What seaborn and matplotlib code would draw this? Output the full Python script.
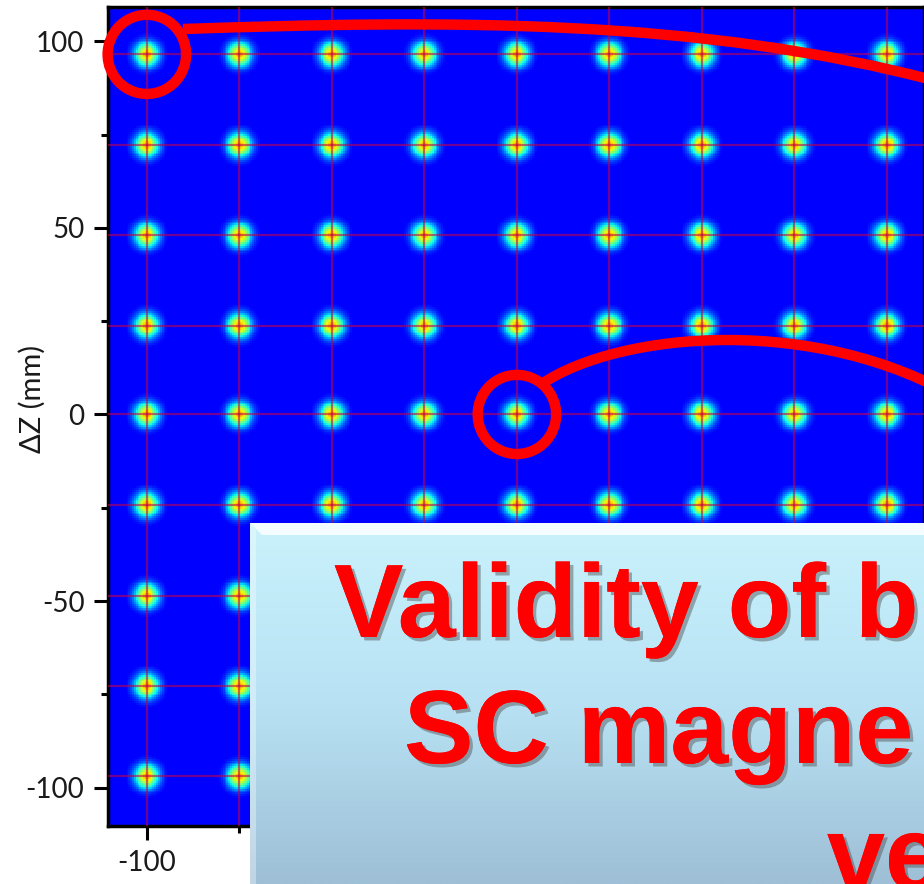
"""
Beam spot grid on the detector plane (jet heatmap) with call-out overlay.
"""

import numpy as np

import matplotlib
matplotlib.use("Agg")
import matplotlib.pyplot as plt
import matplotlib.patheffects as pe
from matplotlib.colors import ListedColormap
from matplotlib.patches import Circle, PathPatch, Polygon
from matplotlib.path import Path
import seaborn as sns

# ---------------------------------------------------------------------------
# Data
# ---------------------------------------------------------------------------

spot_x_mm = [-100, -75, -50, -25, 0, 25, 50, 75, 100]
spot_z_mm = [96.5, 72.2, 48.0, 23.8, 0.0, -24.2, -48.6, -72.8, -97.0]
spot_sigma_mm = 2.2

x_major = [-100, -50, 0, 50, 100]
x_minor = [-75, -25, 25, 75]
z_major = [-100, -50, 0, 50, 100]
z_minor = [-75, -25, 25, 75]
x_major_labels = ["-100", "-50", "0", "50", "100"]
z_major_labels = ["-100", "-50", "0", "50", "100"]

# spots circled in the call-out: (column index, row index)
highlighted = [(0, 0), (4, 4)]

title_lines = ["Validity of b", "SC magne", "ve"]

# ---------------------------------------------------------------------------
# Layout
# ---------------------------------------------------------------------------

W, H = 924, 884
X_LIM = (-110.5, 110.0)
Z_LIM = (-110.3, 109.2)
RES = 0.5
BOX_LEFT, BOX_TOP = 250, 523   # text box corner, figure pixels

sns.set_theme(style="ticks")
plt.rcParams["font.family"] = ["Lato", "DejaVu Sans"]

fig = plt.figure(figsize=(W / 100, H / 100), dpi=100)
fig.patch.set_facecolor("white")
ax = fig.add_axes([108 / W, 58 / H, 816 / W, 819 / H], zorder=1)


def to_col(x):
    return (np.asarray(x, dtype=float) - X_LIM[0]) / RES


def to_row(z):
    return (Z_LIM[1] - np.asarray(z, dtype=float)) / RES


# intensity image: a gaussian spot at every grid position
nx = int(round((X_LIM[1] - X_LIM[0]) / RES))
ny = int(round((Z_LIM[1] - Z_LIM[0]) / RES))
xc = X_LIM[0] + RES * (np.arange(nx) + 0.5)
zc = Z_LIM[1] - RES * (np.arange(ny) + 0.5)
XX, ZZ = np.meshgrid(xc, zc)
intensity = np.zeros_like(XX)
for sx in spot_x_mm:
    for sz in spot_z_mm:
        intensity += np.exp(-((XX - sx) ** 2 + (ZZ - sz) ** 2) / (2 * spot_sigma_mm ** 2))
intensity = np.clip(intensity, 0, 1)

jet = matplotlib.colormaps["jet"]
spot_cmap = ListedColormap(jet(np.linspace(0.11, 0.73, 256)))

sns.heatmap(intensity, ax=ax, cmap=spot_cmap, vmin=0, vmax=1, cbar=False,
            xticklabels=False, yticklabels=False, rasterized=True)
ax.set_xlim(0, nx)
ax.set_ylim(ny, 0)

# thin red grid through the spot centres
for sz in spot_z_mm:
    ax.axhline(to_row(sz), color="#c0004a", alpha=0.6, lw=1.6, zorder=3)
for sx in spot_x_mm:
    ax.axvline(to_col(sx), color="#c0004a", alpha=0.6, lw=1.6, zorder=3)

# circled spots
for ci, ri in highlighted:
    ax.add_patch(Circle((to_col(spot_x_mm[ci]), to_row(spot_z_mm[ri])), radius=10.6 / RES,
                        fill=False, ec="red", lw=7.5, zorder=6, clip_on=False))

# axes, ticks, labels
ax.set_xticks(to_col(x_major))
ax.set_xticklabels(x_major_labels)
ax.set_xticks(to_col(x_minor), minor=True)
ax.set_yticks(to_row(z_major))
ax.set_yticklabels(z_major_labels)
ax.set_yticks(to_row(z_minor), minor=True)
ax.tick_params(which="major", length=10, width=2.2, direction="out", color="black",
               labelsize=20, pad=7, labelcolor="#1a1a1a",
               bottom=True, left=True, top=False, right=False)
ax.tick_params(which="minor", length=5, width=2.2, direction="out", color="black",
               bottom=True, left=True, top=False, right=False)
for lab in ax.get_xticklabels() + ax.get_yticklabels():
    lab.set_rotation(0)

# x tick labels that sit behind the text box are not visible in the picture
box_left_col = (BOX_LEFT - 108) / 816 * nx
for pos, lab in zip(ax.get_xticks(), ax.get_xticklabels()):
    if pos > box_left_col:
        lab.set_visible(False)

for sp in ax.spines.values():
    sp.set_visible(True)
    sp.set_linewidth(2.5)
    sp.set_color("black")
ax.set_xlabel("")
ax.set_ylabel("ΔZ (mm)", fontsize=21, color="#1a1a1a")
ax.yaxis.set_label_coords(-0.076, 0.522)

# ---------------------------------------------------------------------------
# Call-out curves (figure pixel space)
# ---------------------------------------------------------------------------

ov = fig.add_axes([0, 0, 1, 1], zorder=2)
ov.set_xlim(0, W)
ov.set_ylim(H, 0)
ov.axis("off")
ov.patch.set_alpha(0)

curves = [
    [(183, 29), (450, 20), (700, 18), (940, 82)],
    [(540, 385), (620, 330), (820, 315), (960, 400)],
]
codes = [Path.MOVETO, Path.CURVE4, Path.CURVE4, Path.CURVE4]
for pts in curves:
    ov.add_patch(PathPatch(Path(pts, codes), fc="none", ec="red", lw=7.5,
                           capstyle="butt", clip_on=False))

# ---------------------------------------------------------------------------
# Gradient text box
# ---------------------------------------------------------------------------

bx = fig.add_axes([BOX_LEFT / W, 0, (W - BOX_LEFT) / W, (H - BOX_TOP) / H], zorder=3)
top_rgb = np.array([201, 242, 252]) / 255
mid_rgb = np.array([184, 226, 244]) / 255
bot_rgb = np.array([158, 191, 214]) / 255
t = np.linspace(0, 1, 256)[:, None]
grad = np.where(t < 0.5, top_rgb + (mid_rgb - top_rgb) * (t / 0.5),
                mid_rgb + (bot_rgb - mid_rgb) * ((t - 0.5) / 0.5))
bx.imshow(grad[:, None, :], aspect="auto", extent=[0, 1, 0, 1], interpolation="bilinear")
bh, bw = 12 / (H - BOX_TOP), 12 / (W - BOX_LEFT)
bx.add_patch(Polygon([(0, 1), (1, 1), (1, 1 - bh), (bw, 1 - bh)], closed=True,
                     fc="white", ec="none", alpha=0.8))
bx.add_patch(Polygon([(0, 0), (0, 1), (bw * 0.5, 1 - bh * 0.5), (bw * 0.5, 0)], closed=True,
                     fc="white", ec="none", alpha=0.35))
bx.set_xlim(0, 1)
bx.set_ylim(0, 1)
bx.axis("off")

line_pos = [(334, 637), (404, 763), (827, 889)]
shadow = [pe.withSimplePatchShadow(offset=(2.5, -2.5), shadow_rgbFace=(0.3, 0.3, 0.3), alpha=0.45),
          pe.Normal()]
for text, (px, py) in zip(title_lines, line_pos):
    fig.text(px / W, (H - py) / H, text, fontsize=75, fontweight="bold", color="red",
             family=["Liberation Sans", "DejaVu Sans"], ha="left", va="baseline",
             zorder=4, path_effects=shadow)

fig.savefig("out.png", dpi=100)
plt.close(fig)
